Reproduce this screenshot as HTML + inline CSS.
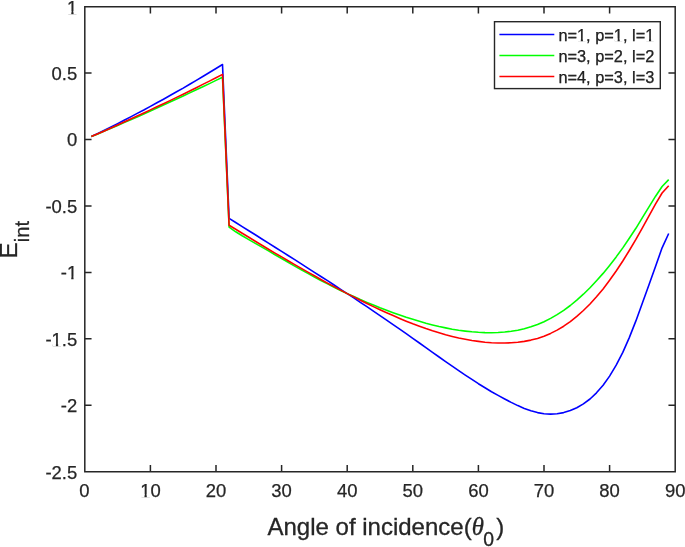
<!DOCTYPE html>
<html><head><meta charset="utf-8"><title>E_int vs angle of incidence</title>
<style>html,body{margin:0;padding:0;background:#fff;overflow:hidden}svg{display:block}text{font-family:"Liberation Sans",sans-serif;fill:#262626}</style></head><body>
<svg width="685" height="547" viewBox="0 0 685 547">
<rect width="685" height="547" fill="#fff"/>
<g fill="none" stroke-width="1.6" stroke-linejoin="round" stroke-linecap="butt">
<path stroke="#0000ff" d="M91.3 136.5 L97.9 133.4 L104.4 130.2 L111.0 126.9 L117.6 123.6 L124.1 120.3 L130.7 116.9 L137.2 113.4 L143.8 110.0 L150.4 106.4 L156.9 102.8 L163.5 99.2 L170.0 95.5 L176.6 91.8 L183.2 88.1 L189.7 84.2 L196.3 80.4 L202.8 76.5 L209.4 72.5 L216.0 68.5 L222.5 64.5 L229.1 218.4 L235.7 222.5 L242.2 226.6 L248.8 230.7 L255.3 234.8 L261.9 239.0 L268.5 243.1 L275.0 247.2 L281.6 251.4 L288.1 255.5 L294.7 259.7 L301.3 263.9 L307.8 268.1 L314.4 272.3 L320.9 276.5 L327.5 280.7 L334.1 285.0 L340.6 289.3 L347.2 293.6 L353.8 297.9 L360.3 302.3 L366.9 306.7 L373.4 311.1 L380.0 315.6 L386.6 320.1 L393.1 324.6 L399.7 329.1 L406.2 333.7 L412.8 338.3 L419.4 343.0 L425.9 347.7 L432.5 352.3 L439.1 357.0 L445.6 361.6 L452.2 366.2 L458.7 370.7 L465.3 375.1 L471.9 379.4 L478.4 383.7 L485.0 387.7 L491.5 391.7 L498.1 395.4 L504.7 399.0 L511.2 402.4 L517.8 405.6 L524.3 408.4 L530.9 410.7 L537.5 412.6 L544.0 413.7 L550.6 414.1 L557.1 413.8 L563.7 412.6 L570.3 410.6 L576.8 407.7 L583.4 403.9 L590.0 399.0 L596.5 392.8 L603.1 385.3 L609.6 376.1 L616.2 365.2 L622.8 352.4 L629.3 337.6 L635.9 320.9 L642.4 303.0 L649.0 284.7 L655.6 266.2 L662.1 247.8 L668.7 233.5"/>
<path stroke="#00ff00" d="M91.3 136.6 L97.9 133.9 L104.4 131.1 L111.0 128.3 L117.6 125.5 L124.1 122.6 L130.7 119.8 L137.2 116.9 L143.8 114.0 L150.4 111.0 L156.9 108.1 L163.5 105.1 L170.0 102.1 L176.6 99.0 L183.2 96.0 L189.7 92.9 L196.3 89.8 L202.8 86.7 L209.4 83.6 L216.0 80.4 L222.5 77.2 L229.1 227.2 L235.7 231.8 L242.2 235.8 L248.8 239.6 L255.3 243.4 L261.9 247.1 L268.5 250.9 L275.0 254.7 L281.6 258.5 L288.1 262.3 L294.7 266.1 L301.3 269.8 L307.8 273.4 L314.4 277.0 L320.9 280.5 L327.5 283.9 L334.1 287.2 L340.6 290.5 L347.2 293.6 L353.8 296.6 L360.3 299.6 L366.9 302.4 L373.4 305.1 L380.0 307.8 L386.6 310.3 L393.1 312.7 L399.7 315.0 L406.2 317.3 L412.8 319.3 L419.4 321.3 L425.9 323.2 L432.5 324.9 L439.1 326.5 L445.6 327.9 L452.2 329.2 L458.7 330.3 L465.3 331.1 L471.9 331.8 L478.4 332.3 L485.0 332.6 L491.5 332.7 L498.1 332.5 L504.7 332.0 L511.2 331.3 L517.8 330.2 L524.3 328.7 L530.9 326.8 L537.5 324.5 L544.0 321.7 L550.6 318.4 L557.1 314.6 L563.7 310.3 L570.3 305.5 L576.8 300.1 L583.4 294.2 L590.0 287.8 L596.5 280.8 L603.1 273.4 L609.6 265.4 L616.2 256.9 L622.8 247.9 L629.3 238.3 L635.9 228.3 L642.4 217.7 L649.0 206.8 L655.6 196.2 L662.1 186.5 L668.7 179.6"/>
<path stroke="#ff0000" d="M91.3 136.6 L97.9 133.8 L104.4 130.9 L111.0 128.0 L117.6 125.0 L124.1 122.1 L130.7 119.1 L137.2 116.1 L143.8 113.0 L150.4 109.9 L156.9 106.8 L163.5 103.7 L170.0 100.6 L176.6 97.4 L183.2 94.2 L189.7 91.0 L196.3 87.7 L202.8 84.4 L209.4 81.1 L216.0 77.8 L222.5 74.4 L229.1 225.3 L235.7 229.3 L242.2 233.3 L248.8 237.3 L255.3 241.3 L261.9 245.2 L268.5 249.2 L275.0 253.1 L281.6 256.9 L288.1 260.8 L294.7 264.6 L301.3 268.4 L307.8 272.1 L314.4 275.8 L320.9 279.5 L327.5 283.1 L334.1 286.6 L340.6 290.1 L347.2 293.6 L353.8 296.9 L360.3 300.2 L366.9 303.5 L373.4 306.6 L380.0 309.7 L386.6 312.7 L393.1 315.6 L399.7 318.5 L406.2 321.2 L412.8 323.8 L419.4 326.2 L425.9 328.6 L432.5 330.8 L439.1 332.8 L445.6 334.7 L452.2 336.4 L458.7 338.0 L465.3 339.3 L471.9 340.5 L478.4 341.4 L485.0 342.2 L491.5 342.7 L498.1 343.0 L504.7 343.0 L511.2 342.8 L517.8 342.3 L524.3 341.4 L530.9 340.1 L537.5 338.4 L544.0 336.2 L550.6 333.4 L557.1 330.1 L563.7 326.2 L570.3 321.6 L576.8 316.4 L583.4 310.5 L590.0 304.0 L596.5 296.8 L603.1 288.9 L609.6 280.3 L616.2 271.0 L622.8 261.0 L629.3 250.5 L635.9 239.4 L642.4 227.8 L649.0 215.9 L655.6 203.8 L662.1 193.0 L668.7 185.7"/>
</g>
<path d="M84.8 6.7 H675.2 V471.7 H84.8 Z M150.4 471.7 v-6.0 M150.4 6.7 v6.0 M216.0 471.7 v-6.0 M216.0 6.7 v6.0 M281.6 471.7 v-6.0 M281.6 6.7 v6.0 M347.2 471.7 v-6.0 M347.2 6.7 v6.0 M412.8 471.7 v-6.0 M412.8 6.7 v6.0 M478.4 471.7 v-6.0 M478.4 6.7 v6.0 M544.0 471.7 v-6.0 M544.0 6.7 v6.0 M609.6 471.7 v-6.0 M609.6 6.7 v6.0 M84.8 73.1 h6.0 M675.2 73.1 h-6.0 M84.8 139.6 h6.0 M675.2 139.6 h-6.0 M84.8 206.0 h6.0 M675.2 206.0 h-6.0 M84.8 272.4 h6.0 M675.2 272.4 h-6.0 M84.8 338.8 h6.0 M675.2 338.8 h-6.0 M84.8 405.3 h6.0 M675.2 405.3 h-6.0" fill="none" stroke="#262626" stroke-width="1.5" stroke-linecap="square"/>
<g font-size="18.45" text-anchor="middle" stroke="#262626" stroke-width="0.25">
<text x="84.5" y="496.6">0</text>
<text x="150.4" y="496.6">10</text>
<text x="216.0" y="496.6">20</text>
<text x="281.6" y="496.6">30</text>
<text x="347.2" y="496.6">40</text>
<text x="412.8" y="496.6">50</text>
<text x="478.4" y="496.6">60</text>
<text x="544.0" y="496.6">70</text>
<text x="609.6" y="496.6">80</text>
<text x="675.2" y="496.6">90</text>
</g>
<g font-size="18.45" text-anchor="end" stroke="#262626" stroke-width="0.25">
<text x="77.2" y="13.5">1</text>
<text x="77.2" y="79.9">0.5</text>
<text x="77.2" y="146.4">0</text>
<text x="77.2" y="212.8">-0.5</text>
<text x="77.2" y="279.2">-1</text>
<text x="77.2" y="345.6">-1.5</text>
<text x="77.2" y="412.1">-2</text>
<text x="77.2" y="478.5">-2.5</text>
</g>
<text x="267.5" y="534.6" font-size="24" stroke="#262626" stroke-width="0.3">Angle of incidence(<tspan font-style="italic" font-size="24.8" font-family="'Liberation Serif',serif">θ</tspan><tspan font-size="19.4" dy="11.3" dx="-0.5">0</tspan><tspan dy="-11.3" dx="2.2">)</tspan></text>
<text transform="translate(16.9 258.6) rotate(-90)" font-size="24" stroke="#262626" stroke-width="0.3">E<tspan font-size="20.2" dy="11.7" dx="0.45">int</tspan></text>
<rect x="494.5" y="21.7" width="165.8" height="66.9" fill="#fff" stroke="#262626" stroke-width="1.4"/>
<path d="M499.4 34.5 H554.3" stroke="#0000ff" stroke-width="1.6" fill="none"/>
<text x="558.4" y="40.8" font-size="16.35" fill="#000" stroke="#000" stroke-width="0.25">n=1, p=1, l=1</text>
<path d="M499.4 55.5 H554.3" stroke="#00ff00" stroke-width="1.6" fill="none"/>
<text x="558.4" y="61.8" font-size="16.35" fill="#000" stroke="#000" stroke-width="0.25">n=3, p=2, l=2</text>
<path d="M499.4 76.5 H554.3" stroke="#ff0000" stroke-width="1.6" fill="none"/>
<text x="558.4" y="82.8" font-size="16.35" fill="#000" stroke="#000" stroke-width="0.25">n=4, p=3, l=3</text>
<rect x="141.04" y="494.12" width="3.44" height="3.33" fill="#fff"/>
<rect x="146.76" y="494.12" width="3.64" height="3.33" fill="#fff"/>
<rect x="67.84" y="11.02" width="3.44" height="3.33" fill="#fff"/>
<rect x="73.55" y="11.02" width="3.64" height="3.33" fill="#fff"/>
<rect x="67.82" y="276.72" width="3.44" height="3.33" fill="#fff"/>
<rect x="73.54" y="276.72" width="3.64" height="3.33" fill="#fff"/>
<rect x="52.44" y="343.12" width="3.44" height="3.33" fill="#fff"/>
<rect x="58.16" y="343.12" width="3.64" height="3.33" fill="#fff"/>
<rect x="577.82" y="38.48" width="3.01" height="3.17" fill="#fff"/>
<rect x="582.93" y="38.48" width="3.23" height="3.17" fill="#fff"/>
<rect x="614.64" y="38.48" width="3.01" height="3.17" fill="#fff"/>
<rect x="619.74" y="38.48" width="3.23" height="3.17" fill="#fff"/>
<rect x="645.98" y="38.48" width="3.01" height="3.17" fill="#fff"/>
<rect x="651.09" y="38.48" width="3.23" height="3.17" fill="#fff"/>
</svg></body></html>
